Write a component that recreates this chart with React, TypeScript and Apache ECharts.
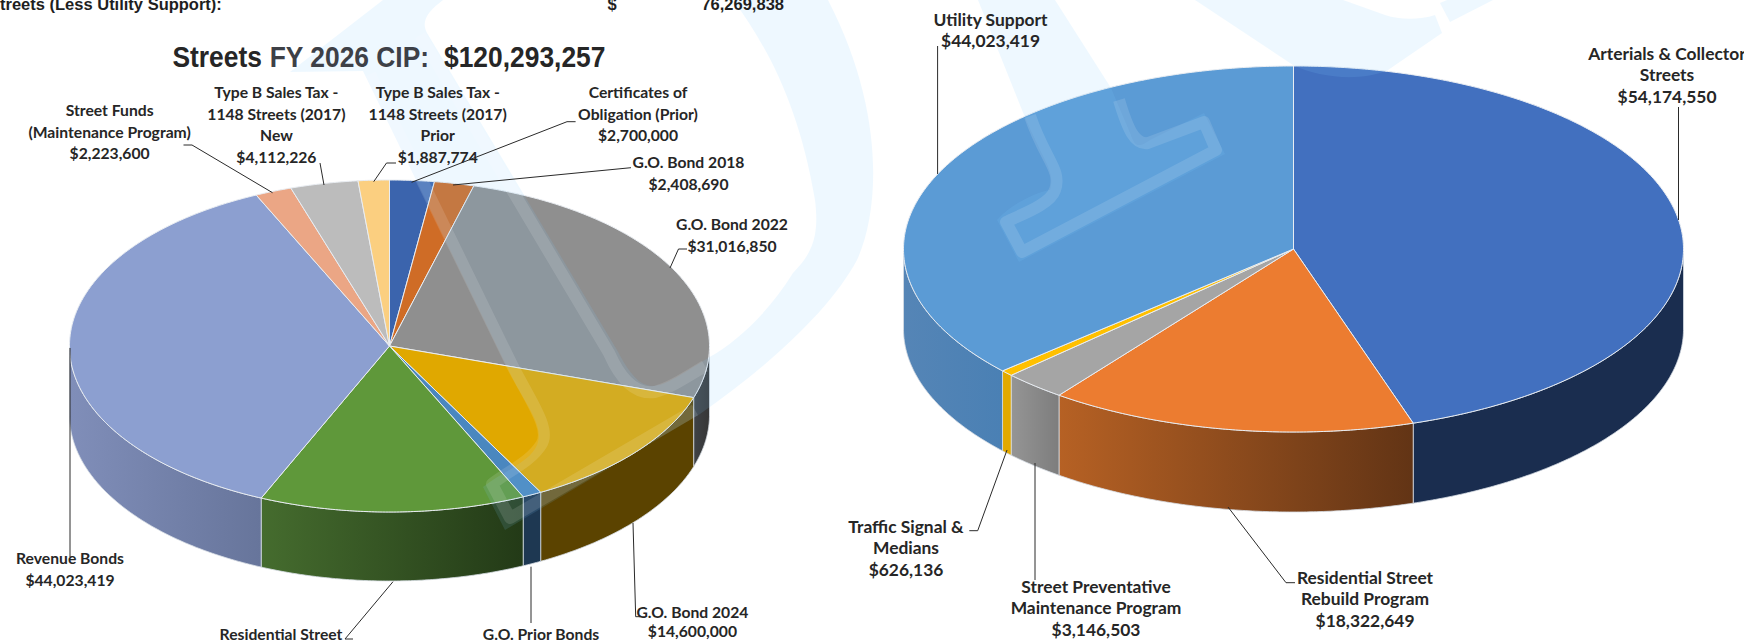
import React, { useEffect, useRef } from "react";
import * as echarts from "echarts";

const fundingNames = [
  "Certificates of\nObligation (Prior)",
  "G.O. Bond 2018",
  "G.O. Bond 2022",
  "G.O. Bond 2024",
  "G.O. Prior Bonds",
  "Residential Street",
  "Revenue Bonds",
  "Street Funds\n(Maintenance Program)",
  "Type B Sales Tax -\n1148 Streets (2017)\nNew",
  "Type B Sales Tax -\n1148 Streets (2017)\nPrior",
];
const fundingValues = [2700000, 2408690, 31016850, 14600000, 1170000, 16150000, 44023419, 2223600, 4112226, 1887774];
const fundingShowValue = [true, true, true, true, false, false, true, true, true, true];
const fundingTopColors = ["#3B64AD", "#CF6C26", "#8F8F8F", "#E0A800", "#4A87BF", "#5F983A", "#8C9FD0", "#EBA685", "#BCBCBC", "#FBCF80"];
const fundingSideColors = [
  ["#2A4678", "#2A4678"], ["#8A4A1A", "#8A4A1A"], ["#3F4246", "#363636"], ["#5B4300", "#5B4300"], ["#1E3852", "#1E3852"],
  ["#456C2E", "#233A17"], ["#808EB9", "#67759B"], ["#A06F58", "#A06F58"], ["#808080", "#808080"], ["#AA8C55", "#AA8C55"],
];

const programNames = [
  "Arterials & Collector\nStreets",
  "Residential Street\nRebuild Program",
  "Street Preventative\nMaintenance Program",
  "Traffic Signal &\nMedians",
  "Utility Support",
];
const programValues = [54174550, 18322649, 3146503, 626136, 44023419];
const programTopColors = ["#4270BF", "#EC7C30", "#A5A5A5", "#FFC000", "#5B9BD5"];
const programSideColors = [
  ["#1A2D4F", "#1A2D4F"], ["#B66124", "#623415"], ["#959595", "#7D7D7D"], ["#E3A900", "#E3A900"], ["#5585B6", "#4A80B4"],
];

const headerLeft = "treets (Less Utility Support):";
const headerDollar = "$";
const headerTotal = "76,269,838";
const titleParts = ["Streets", "FY 2026 CIP:", "$120,293,257"];

// Layout only, in page pixels
const leftPie = { cx: 389.5, cy: 346, rx: 320, ry: 166, depth: 69 };
const rightPie = { cx: 1293.5, cy: 249, rx: 390, ry: 183, depth: 80 };
const fundingLabelPos = [[638, 81.5], [688.5, 151.5], [732, 213.5], [692.4, 602, 19.5], [541, 627, 14], [281, 626.5, 14], [70, 547.5], [109.6, 99.5], [276.4, 81.5], [437.7, 81.5]];
const programLabelPos = [[1667, 42.5], [1365, 566.5], [1096, 575.5], [906, 515.5], [990.5, 8.5]];
const titleX = [172.4, 269.7, 444];
const leaders = [
  [[183.5, 145], [192, 145], [272.5, 192.7]],
  [[320, 163], [324, 185]],
  [[396, 163], [386.5, 163], [373.7, 181.7]],
  [[575.6, 121.7], [567, 121.7], [411.6, 182.3]],
  [[631, 167.7], [453, 185]],
  [[687, 249], [678.5, 249], [670, 268]],
  [[70, 348], [70, 557]],
  [[353, 639], [345, 639], [393, 581.7]],
  [[531, 566.7], [531, 623]],
  [[640, 616.7], [635.7, 616.7], [633, 523]],
  [[937.6, 46], [937.6, 174]],
  [[1678.5, 107], [1678.5, 220]],
  [[1007, 450], [977.7, 530.7], [969.3, 530.7]],
  [[1035, 463], [1035, 580]],
  [[1228, 507], [1286, 582.7], [1295, 582.7]],
];

// Watermark outlines
const markFills = [
  "M383,0 L290,72 L363,71 L507,367 C525,405 545,425 537,445 C530,462 505,470 483,487 L505,530 L700,414 C770,365 830,310 857,260 C880,210 885,110 828,0 L733,0 C770,50 800,110 815,200 C820,240 810,255 793,273 C770,310 740,340 708,358 C680,375 660,390 647,385 C635,382 625,365 617,350 L427,33 C420,20 430,10 443,0 Z",
  "M978,0 L1055,0 L1111,88 L1131,135 C1135,148 1140,147 1150,140 L1204,113 L1225,154 L1019,262 L997,220 C1015,200 1045,190 1050,190 C1055,170 1045,165 1024,115 Z",
  "M1195,0 L1293,65 C1320,78 1360,82 1388,70 L1442,33 L1435,15 C1420,20 1400,20 1385,15 L1343,0 Z",
  "M1440,3 L1450,22 L1493,0 L1447,0 Z",
];
const markBands = [
  "M370,74 L513,367 C530,400 552,430 541,445 C530,462 510,470 492,484 L510,518 L695,410",
  "M420,35 L609,353 C620,378 635,395 655,392 C670,388 685,378 705,366",
  "M1030,116 C1045,160 1062,170 1055,190 C1050,205 1020,215 1006,222 L1022,252 L1216,150 L1204,122 L1148,143 C1135,145 1128,130 1119,100",
];
markFills.forEach((d, i) => echarts.graphic.registerShape("markFill" + i, echarts.graphic.extendPath(d, {})));
markBands.forEach((d, i) => echarts.graphic.registerShape("markBand" + i, echarts.graphic.extendPath(d, {})));

const money = (v: number) => "$" + v.toLocaleString("en-US");

function pieSeries(values: number[], tops: string[], sides: string[][], g: any, part: "wall" | "top", z: number) {
  const total = values.reduce((a, b) => a + b, 0);
  const starts: number[] = [];
  values.reduce((acc, v, i) => ((starts[i] = acc), acc + v), 0);
  const pt = (deg: number, dy = 0) => {
    const r = (deg * Math.PI) / 180;
    return [g.cx + g.rx * Math.sin(r), g.cy - g.ry * Math.cos(r) + dy];
  };
  const arc = (a: number, b: number, dy = 0) => {
    const out: number[][] = [];
    const n = Math.max(2, Math.ceil((b - a) * 2));
    for (let k = 0; k <= n; k++) out.push(pt(a + ((b - a) * k) / n, dy));
    return out;
  };
  return {
    type: "custom",
    coordinateSystem: "none",
    z,
    silent: true,
    data: values.map((v) => [v]),
    renderItem: (params: any, api: any) => {
      const i = params.dataIndex;
      const a0 = (starts[i] / total) * 360;
      const a1 = a0 + (api.value(0) / total) * 360;
      if (part === "top") {
        return {
          type: "polygon",
          shape: { points: [[g.cx, g.cy], ...arc(a0, a1)] },
          style: { fill: tops[i], stroke: "#E9EDF2", lineWidth: 1, lineJoin: "round" },
        };
      }
      const w0 = Math.max(a0, 90);
      const w1 = Math.min(a1, 270);
      if (w1 <= w0) return { type: "group", children: [] };
      const upper = arc(w0, w1);
      const lower = arc(w0, w1, g.depth).reverse();
      return {
        type: "polygon",
        shape: { points: [...upper, ...lower] },
        style: {
          fill: new echarts.graphic.LinearGradient(0, 0, 1, 0, [
            { offset: 0, color: sides[i][0] },
            { offset: 1, color: sides[i][1] },
          ]),
          stroke: "#D5DCE3",
          lineWidth: 0.8,
        },
      };
    },
  };
}

const LABEL_FONT = '"Lato", "Noto Sans", sans-serif';

function labelEl(text: string, pos: number[], size: number) {
  return {
    type: "text",
    x: pos[0],
    y: pos[1],
    z: 30,
    silent: true,
    style: {
      text,
      fill: "#262626",
      font: `bold ${size}px ${LABEL_FONT}`,
      lineHeight: pos[2] || 21.5,
      align: "center",
      verticalAlign: "top",
    },
  };
}

export default function App() {
  const ref = useRef<HTMLDivElement>(null);
  useEffect(() => {
    document.body.style.margin = "0";
    const chart = echarts.init(ref.current!, undefined, { renderer: "svg" });
    const elements: any[] = [];
    markFills.forEach((_, i) =>
      elements.push({ type: "markFill" + i, x: 0, y: 0, z: 10, silent: true, style: { fill: "rgba(128,203,255,0.134)" } })
    );
    markBands.forEach((_, i) =>
      elements.push({
        type: "markBand" + i, x: 0, y: 0, z: 11, silent: true,
        style: { fill: "none", stroke: "rgba(255,255,255,0.12)", lineWidth: 12, lineJoin: "round" },
      })
    );
    leaders.forEach((points) =>
      elements.push({
        type: "polyline", z: 20, silent: true, shape: { points },
        style: { fill: "none", stroke: "#2A2A2A", lineWidth: 1 },
      })
    );
    fundingNames.forEach((n, i) =>
      elements.push(labelEl(fundingShowValue[i] ? n + "\n" + money(fundingValues[i]) : n, fundingLabelPos[i], 15.7))
    );
    programNames.forEach((n, i) => elements.push(labelEl(n + "\n" + money(programValues[i]), programLabelPos[i], 17.4)));
    const headFont = 'bold 16.5px "Liberation Sans", Arial, sans-serif';
    elements.push(
      { type: "text", x: 0, y: 3.5, z: 30, silent: true, style: { text: headerLeft, font: headFont, fill: "#1F1F1F", align: "left", verticalAlign: "middle" } },
      { type: "text", x: 612, y: 3.5, z: 30, silent: true, style: { text: headerDollar, font: headFont, fill: "#1F1F1F", align: "center", verticalAlign: "middle" } },
      { type: "text", x: 784, y: 3.5, z: 30, silent: true, style: { text: headerTotal, font: headFont, fill: "#1F1F1F", align: "right", verticalAlign: "middle" } }
    );
    const titleColors = ["#262626", "#3D4047", "#262626"];
    titleParts.forEach((t, i) =>
      elements.push({
        type: "text", x: titleX[i], y: 57, scaleY: 1.13, z: 30, silent: true,
        style: {
          text: t, fill: titleColors[i], align: "left", verticalAlign: "middle",
          font: 'bold 26.4px "Liberation Sans", Arial, sans-serif',
        },
      })
    );
    chart.setOption({
      animation: false,
      backgroundColor: "#FFFFFF",
      series: [
        pieSeries(fundingValues, fundingTopColors, fundingSideColors, leftPie, "wall", 2),
        pieSeries(fundingValues, fundingTopColors, fundingSideColors, leftPie, "top", 3),
        pieSeries(programValues, programTopColors, programSideColors, rightPie, "wall", 2),
        pieSeries(programValues, programTopColors, programSideColors, rightPie, "top", 3),
      ],
      graphic: { elements },
    });
    return () => chart.dispose();
  }, []);
  return <div ref={ref} style={{ position: "absolute", left: 0, top: 0, width: 1744, height: 641, overflow: "hidden" }} />;
}
